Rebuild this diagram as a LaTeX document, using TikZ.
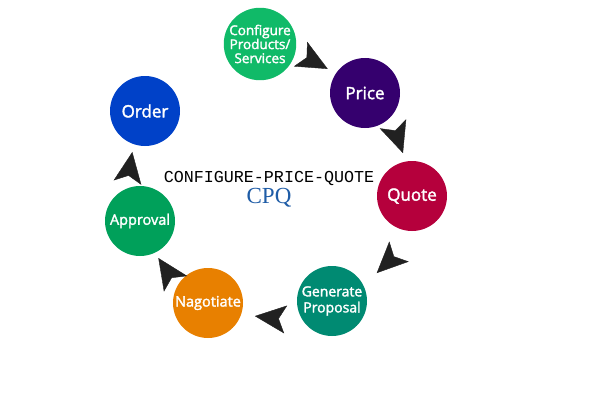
\documentclass[tikz,border=0pt]{standalone}
\usepackage{fontspec}
\setmainfont{Open Sans}
\newfontfamily\stagefont{Open Sans}[FakeBold=2]
\newfontfamily\monofont{Liberation Mono}
\newfontfamily\seriffont{Liberation Serif}
\usepackage{tikz}
\usetikzlibrary{arrows.meta, decorations.markings, positioning}

\definecolor{cfggreen}{HTML}{10BA68}
\definecolor{pricepurple}{HTML}{35006E}
\definecolor{quotered}{HTML}{B5003C}
\definecolor{propteal}{HTML}{008A72}
\definecolor{negorange}{HTML}{E88000}
\definecolor{apprgreen}{HTML}{00A05A}
\definecolor{orderblue}{HTML}{0041C8}
\definecolor{cpqblue}{HTML}{1F5CA6}

\tikzset{
  stage/.style={circle, minimum size=70pt, inner sep=0pt, text=white, align=center,
    font=\stagefont\fontsize{17}{19}\selectfont},
  mid/.style={font=\stagefont\fontsize{14.5}{16}\selectfont},
  small/.style={font=\stagefont\fontsize{13.5}{14}\selectfont},
  flow/.style={postaction={decorate}, decoration={markings,
    mark=at position #1 with {\arrow[black!87]{Stealth[length=31pt, width=28pt, inset=7pt]}}}},
  flow/.default=0.62
}

\begin{document}
\begin{tikzpicture}[x=1pt, y=-1pt]
    \useasboundingbox (0,0) rectangle (594,420);
    \node[stage, small, fill=cfggreen] (config) at (260,44) {Configure\\Products/\\Services};
    \node[stage, fill=pricepurple] (price) at (365,93) {Price};
    \node[stage, fill=quotered] (quote) at (412,196) {Quote};
    \node[stage, fill=propteal, font=\stagefont\fontsize{14}{16}\selectfont] (proposal) at (332,301) {Generate\\Proposal};
    \node[stage, mid, fill=negorange] (negotiate) at (208,303) {Nagotiate};
    \node[stage, mid, fill=apprgreen] (approval) at (140,221) {Approval};
    \node[stage, fill=orderblue] (order) at (145,111) {Order};

    \node[font=\monofont\fontsize{16.7}{18}\selectfont] (title) at (269,178) {CONFIGURE-PRICE-QUOTE};
    \node[font=\seriffont\fontsize{23}{24}\selectfont, text=cpqblue, below=-4pt of title] (cpq) {CPQ};

    % arrow heads only, no shafts
    \path[flow] (config.center) to[bend left=11] (price.center);
    \path[flow] (price.center) to[bend left=18] (quote.center);
    \path[flow] (quote.center) to[bend left=31] (proposal.center);
    \path[flow] (proposal.center) to[bend left=24] (negotiate.center);
    \path[flow] (negotiate.center) to[bend left=19] (approval.center);
    \path[flow] (approval.center) to[bend left=21] (order.center);
\end{tikzpicture}
\end{document}
